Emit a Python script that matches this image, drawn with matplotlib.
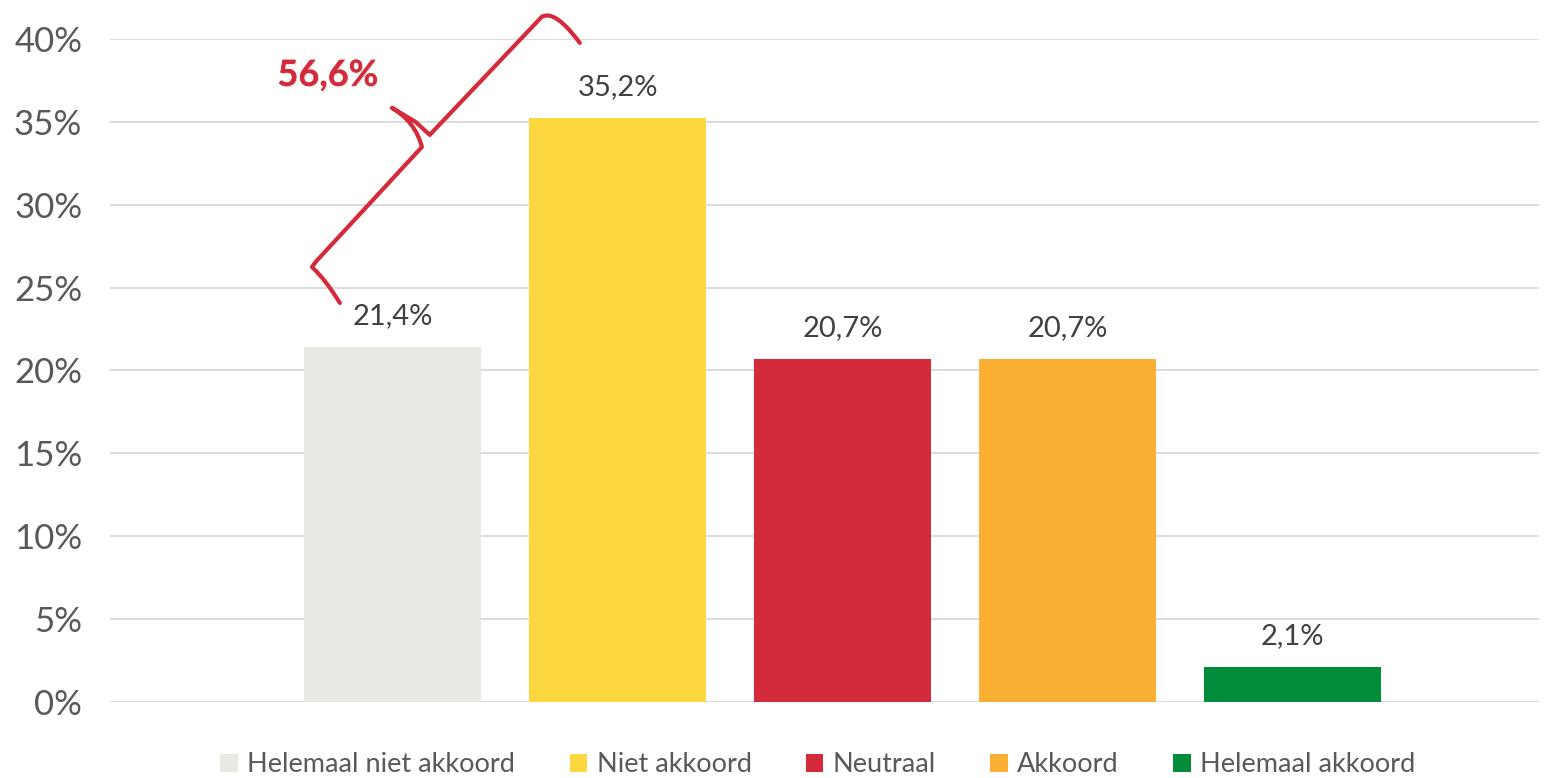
import matplotlib
matplotlib.use("Agg")
import matplotlib.pyplot as plt
import matplotlib.patheffects as pe
from matplotlib.path import Path
from matplotlib.patches import PathPatch, Patch
from matplotlib.ticker import PercentFormatter

categories = ["Helemaal niet akkoord", "Niet akkoord", "Neutraal", "Akkoord", "Helemaal akkoord"]
values = [21.4, 35.2, 20.7, 20.7, 2.1]
colors = ["#EAE8E3", "#FDD73F", "#D42A3A", "#FBB034", "#008C3A"]
brace_label = "56,6%"

plt.rcParams['font.family'] = ['Lato', 'DejaVu Sans']
txt = "#595959"

fig = plt.figure(figsize=(15.58, 7.78), dpi=100)
ax = fig.add_axes([0.0706, 0.0977, 0.9174, 0.8523])

x = list(range(len(values)))
ax.bar(x, values, width=0.787, color=colors, zorder=2)
for xi, v in zip(x, values):
    ax.text(xi, v + 1.1, f"{v:.1f}%".replace(".", ","), ha="center", va="bottom",
            fontsize=21, color="#404040")

ax.set_ylim(0, 40)
ax.set_xlim(-1.258, 5.098)
ax.set_yticks(range(0, 41, 5))
ax.yaxis.set_major_formatter(PercentFormatter(decimals=0))
ax.tick_params(axis="y", length=0, labelsize=25, labelcolor=txt, pad=20)
ax.set_xticks([])
ax.grid(axis="y", color="#D9D9D9", linewidth=1.3, zorder=0)
for s in ax.spines.values():
    s.set_visible(False)

# brace over the first two bars
verts = [(-0.236, 24.07), (-0.30, 25.5), (-0.36, 26.24), (-0.34, 26.6),
         (0.129, 33.48), (0.10, 35.0), (-0.004, 35.84),
         (0.10, 35.0), (0.164, 34.21),
         (0.662, 41.33), (0.72, 41.8), (0.831, 39.76)]
codes = [Path.MOVETO, Path.CURVE3, Path.CURVE3, Path.LINETO,
         Path.LINETO, Path.CURVE3, Path.CURVE3,
         Path.LINETO, Path.LINETO,
         Path.LINETO, Path.CURVE3, Path.CURVE3]
brace = PathPatch(Path(verts, codes), facecolor="none", edgecolor="#D42A3A",
                  linewidth=3, capstyle="round", joinstyle="round", clip_on=False, zorder=5)
ax.add_patch(brace)
ax.text(-0.289, 37.8, brace_label, ha="center", va="center", fontsize=26,
        fontweight="bold", color="#D42A3A", zorder=6,
        path_effects=[pe.withSimplePatchShadow(offset=(1, -1), shadow_rgbFace="#BBBBBB", alpha=0.35),
                      pe.Normal()])

handles = [Patch(facecolor=c, label=l) for c, l in zip(colors, categories)]
leg = fig.legend(handles=handles, loc="center", bbox_to_anchor=(0.525, 0.017), ncol=5,
                 frameon=False, fontsize=19.5, handlelength=0.65, handleheight=0.65,
                 handletextpad=0.35, columnspacing=2.0)
for t in leg.get_texts():
    t.set_color(txt)

fig.savefig("out.png", dpi=100)
